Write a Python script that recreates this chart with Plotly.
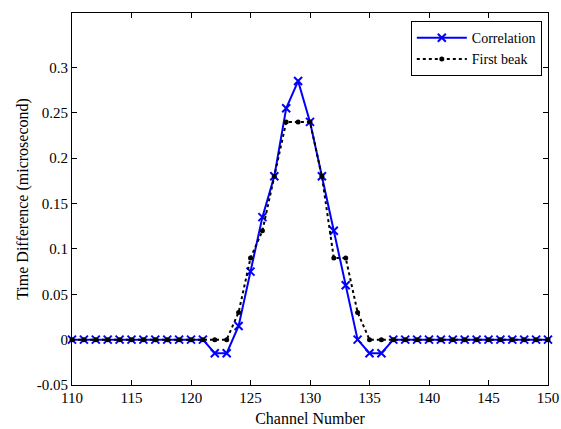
import plotly.graph_objects as go

channels = list(range(110, 151))

correlation = [0]*12 + [-0.015, -0.015, 0.015, 0.075, 0.135, 0.18, 0.255, 0.285,
                        0.24, 0.18, 0.12, 0.06, 0.0, -0.015, -0.015] + [0]*14
first_beak = [0]*14 + [0.03, 0.09, 0.12, 0.18, 0.24, 0.24, 0.24, 0.18, 0.09, 0.09,
                       0.03, 0.0] + [0]*15

x_ticks = [110, 115, 120, 125, 130, 135, 140, 145, 150]
x_ticktext = ["110", "115", "120", "125", "130", "135", "140", "145", "150"]
y_ticks = [-0.05, 0, 0.05, 0.1, 0.15, 0.2, 0.25, 0.3]
y_ticktext = ["-0.05", "0", "0.05", "0.1", "0.15", "0.2", "0.25", "0.3"]

font = "Liberation Serif"

fig = go.Figure()
fig.add_trace(go.Scatter(
    x=channels, y=correlation, name="Correlation", mode="lines+markers",
    line=dict(color="#0000ff", width=2),
    marker=dict(symbol="x-thin", size=8, line=dict(color="#0000ff", width=2)),
    cliponaxis=False,
))
fig.add_trace(go.Scatter(
    x=channels, y=first_beak, name="First beak", mode="lines+markers",
    line=dict(color="black", width=2, dash="dot"),
    marker=dict(symbol="circle", size=5, color="black"),
    cliponaxis=False,
))

axis_common = dict(
    showline=True, linecolor="black", linewidth=1, mirror="ticks",
    ticks="inside", ticklen=5, tickcolor="black", showgrid=False,
    zeroline=False, automargin=False, ticklabeloverflow="allow",
    tickfont=dict(family=font, size=15, color="black"),
)

fig.update_layout(
    width=561, height=429,
    paper_bgcolor="white", plot_bgcolor="white",
    margin=dict(l=72, r=13, t=13, b=44),
    font=dict(family=font, size=15, color="black"),
    showlegend=True,
    legend=dict(
        x=0.987, y=0.978, xanchor="right", yanchor="top",
        bgcolor="white", bordercolor="black", borderwidth=1,
        font=dict(family=font, size=14, color="black"),
        tracegroupgap=0, itemwidth=50,
    ),
    xaxis=dict(range=[110, 150], tickvals=x_ticks, ticktext=x_ticktext,
               ticklabelstandoff=-1,
               title=dict(text="Channel Number", standoff=7,
                          font=dict(family=font, size=16, color="black")),
               **axis_common),
    yaxis=dict(range=[-0.05, 0.36], tickvals=y_ticks, ticktext=y_ticktext,
               ticklabelstandoff=0,
               title=dict(text="Time Difference (microsecond)", standoff=4,
                          font=dict(family=font, size=16, color="black")),
               **axis_common),
)

fig.write_html(
    "out.html",
    config={"displayModeBar": False},
    post_script="document.body.style.margin='0';document.body.style.overflow='hidden';",
)
